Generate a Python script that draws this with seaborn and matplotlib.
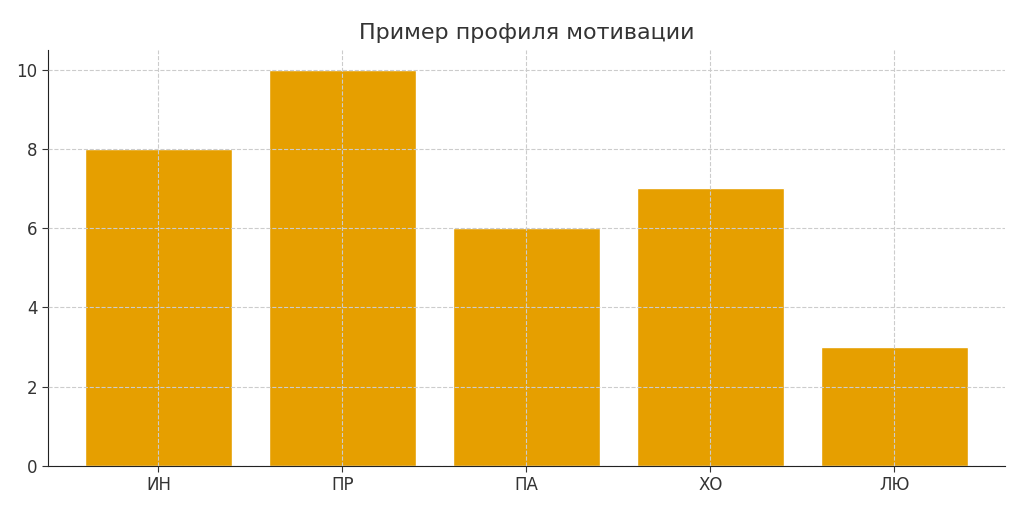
import matplotlib
matplotlib.use("Agg")
import matplotlib.pyplot as plt
import seaborn as sns
import pandas as pd

categories = ["ИН", "ПР", "ПА", "ХО", "ЛЮ"]
values = [8, 10, 6, 7, 3]

sns.set_style("white")
plt.rcParams['font.family'] = ['DejaVu Sans']
df = pd.DataFrame({"cat": categories, "val": values})

fig = plt.figure(figsize=(10.24, 5.13), dpi=100)
ax = fig.add_axes([0.047, 0.092, 0.934, 0.811])
sns.barplot(data=df, x="cat", y="val", color="#E69F00", saturation=1, width=0.8, ax=ax)
ax.set_ylim(0, 10.5)
ax.set_xlim(-0.6, 4.6)
ax.set_xlabel("")
ax.set_ylabel("")
ax.set_title("Пример профиля мотивации", fontsize=16, color="#333333", pad=8)
ax.grid(True, linestyle="--", color="#cccccc", linewidth=0.8)
ax.set_axisbelow(False)
for s in ["top", "right"]:
    ax.spines[s].set_visible(False)
for s in ["left", "bottom"]:
    ax.spines[s].set_color("#222222")
ax.tick_params(axis="both", labelsize=12, colors="#333333", length=4, left=True, bottom=True)
ax.set_yticks([0, 2, 4, 6, 8, 10])
fig.savefig("out.png", dpi=100)
